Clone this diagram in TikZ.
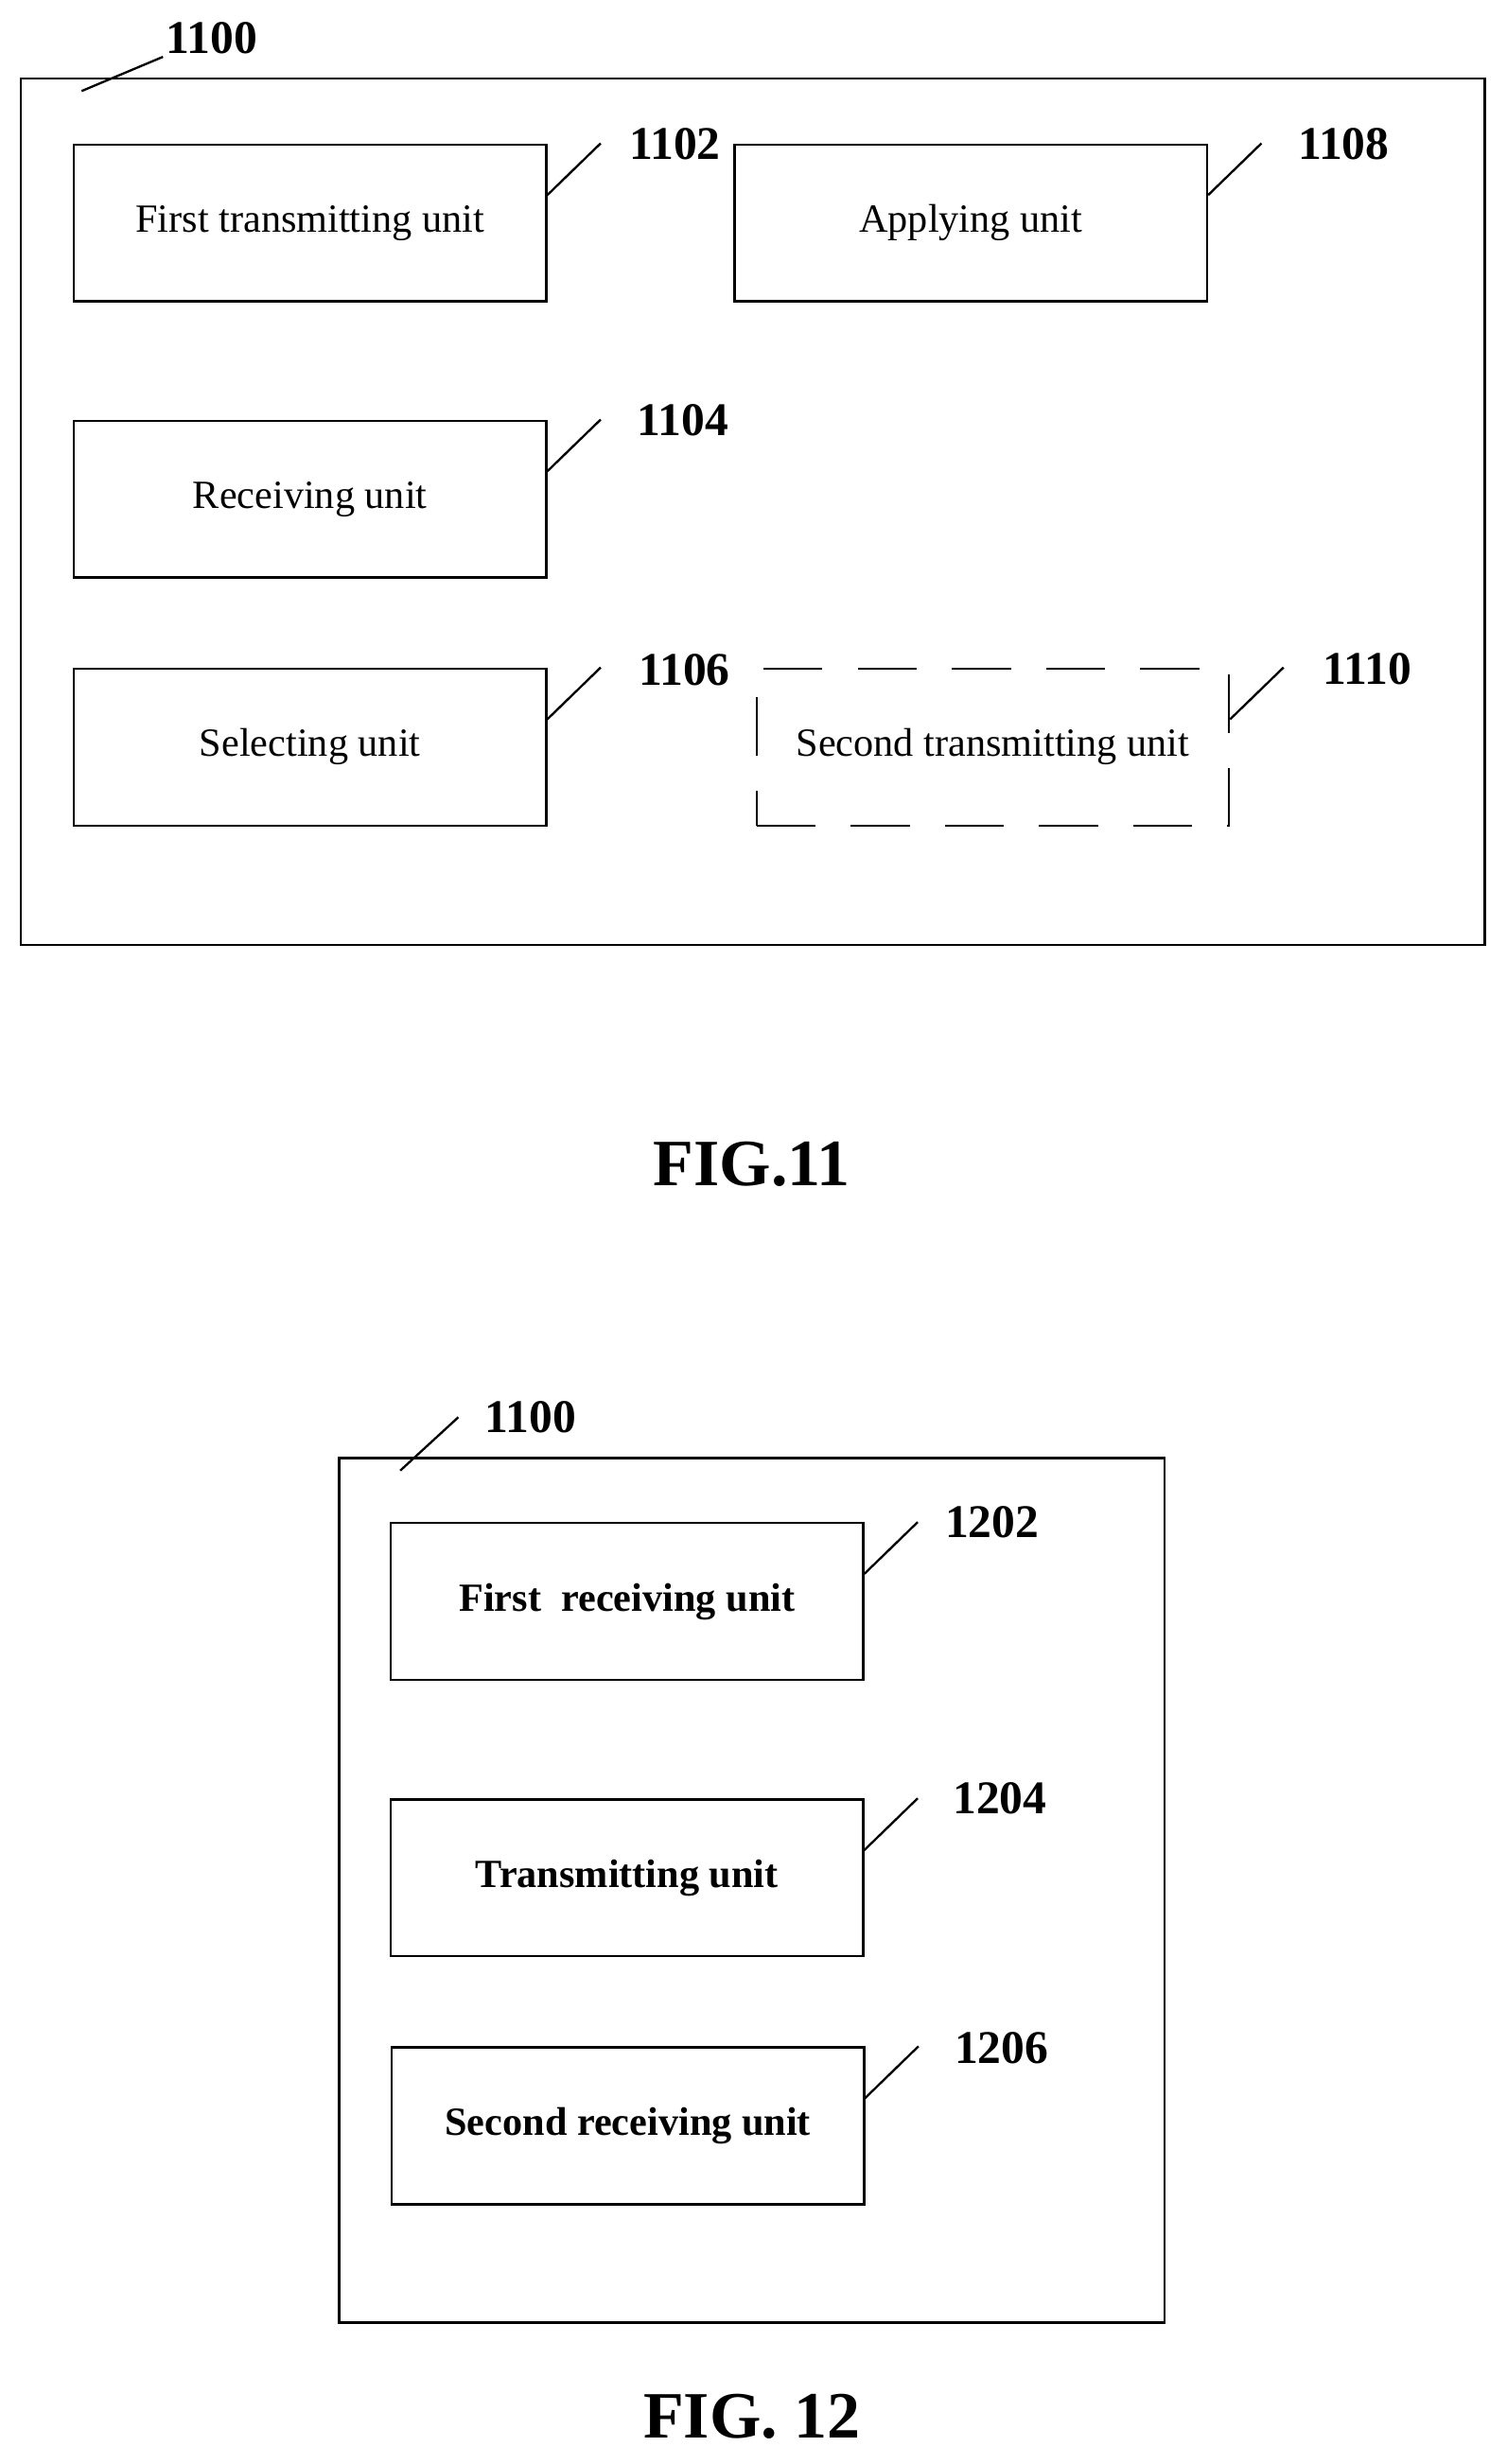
\documentclass[tikz,border=0pt]{standalone}
\usepackage{fontspec}
\setmainfont{Liberation Serif}
\usetikzlibrary{calc}
\begin{document}
\begin{tikzpicture}[x=0.02cm,y=-0.02cm,
unit/.style={draw,thick,minimum width=6.02cm,minimum height=2cm,inner sep=0pt,font=\fontsize{14.5}{16}\selectfont},
dashunit/.style={unit,dash pattern=on 0.75cm off 0.45cm},
bunit/.style={unit,font=\fontsize{14.5}{16}\selectfont\bfseries},
frame/.style={draw,thick,inner sep=0pt},
ref/.style={font=\fontsize{17}{19}\selectfont\bfseries,inner sep=1pt},
fig/.style={font=\fontsize{24}{26}\selectfont\bfseries},
leader/.style={thick}]
\useasboundingbox (0,0) rectangle (960,1570);

% FIG. 11
\node (f11) [frame,minimum width=18.66cm,minimum height=11.04cm] at (479.5,326) {};
\node (r1100a) [ref] at (135,24) {1100};
\draw[leader] (52,58) -- (r1100a.south west);
\node (u1102) [unit] at (197.5,142) {First transmitting unit};
\node (u1108) [unit] at (618.5,142) {Applying unit};
\node (u1104) [unit] at (197.5,318) {Receiving unit};
\node (u1106) [unit] at (197.5,476) {Selecting unit};
\node (u1110) [dashunit] at (632.5,476) {Second transmitting unit};
\node (r1102) [ref] at (430,92) {1102};
\node (r1108) [ref] at (856,92) {1108};
\node (r1104) [ref] at (435,268) {1104};
\node (r1106) [ref] at (436,427) {1106};
\node (r1110) [ref] at (871,426) {1110};
\foreach \u/\r in {u1102/r1102,u1108/r1108,u1104/r1104,u1106/r1106,u1110/r1110}
  \draw[leader] ([yshift=-0.66cm]\u.north east) -- ++(34,-33);
\node (cap11) [fig] at (479,742) {FIG.11};

% FIG. 12
\node (f12) [frame,minimum width=10.52cm,minimum height=11.02cm] at (479,1204.5) {};
\node (r1100b) [ref] at (338,903) {1100};
\draw[leader] (255,937) -- (292,903);
\node (u1202) [bunit] at (399.5,1020.5) {First\ \ receiving unit};
\node (u1204) [bunit] at (399.5,1196.5) {Transmitting unit};
\node (u1206) [bunit] at (400,1354.5) {Second receiving unit};
\node (r1202) [ref] at (632,970) {1202};
\node (r1204) [ref] at (637,1146) {1204};
\node (r1206) [ref] at (638,1305) {1206};
\foreach \u in {u1202,u1204,u1206}
  \draw[leader] ([yshift=-0.66cm]\u.north east) -- ++(34,-33);
\node (cap12) [fig] at (479,1540) {FIG. 12};
\end{tikzpicture}
\end{document}
